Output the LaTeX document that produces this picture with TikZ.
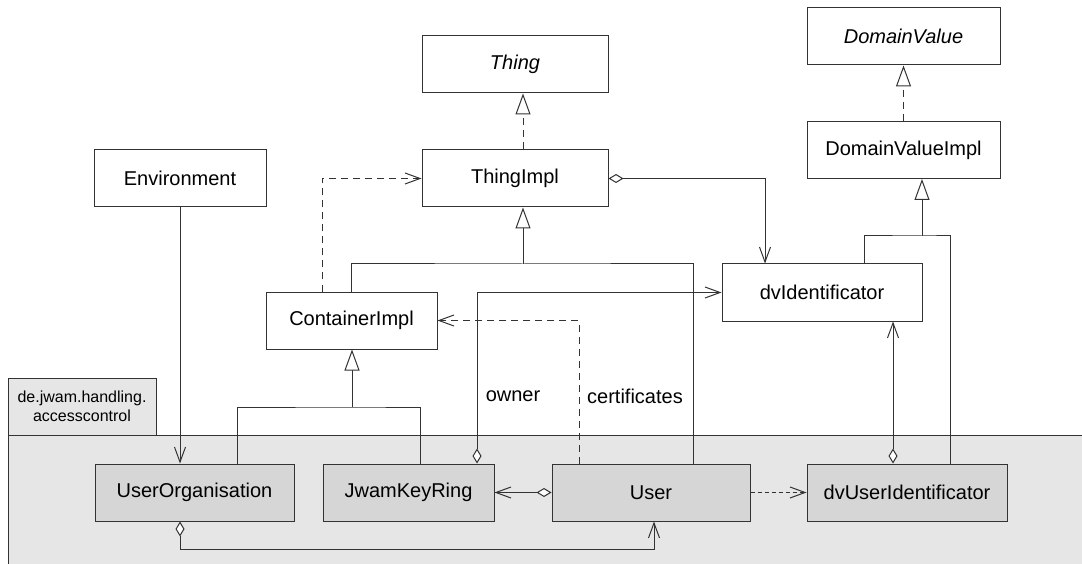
\documentclass[tikz,border=0pt]{standalone}
\usepackage{fontspec}
\setmainfont{Liberation Sans}
\usetikzlibrary{arrows.meta}
\definecolor{pkgfill}{HTML}{E6E6E6}
\definecolor{clsfill}{HTML}{D6D6D6}
\definecolor{ink}{HTML}{333333}

\begin{document}
\begin{tikzpicture}[x=1pt,y=-1pt,
  every node/.style={font=\fontsize{20}{24}\selectfont},
  cls/.style={draw=ink, line width=1pt, fill=white, inner sep=0pt, minimum height=57pt},
  pkgcls/.style={cls, fill=clsfill},
  conn/.style={draw=ink, line width=1pt},
  gen/.style={conn, -{Triangle[length=21pt,width=15pt,fill=white]}},
  realize/.style={gen, dash pattern=on 7pt off 5pt},
  assoc/.style={conn, -{Straight Barb[length=15pt,width=11pt]}},
  aggr/.style={conn, {Diamond[length=15pt,width=9pt,fill=white]}-{Straight Barb[length=15pt,width=11pt]}},
  depend/.style={assoc, dash pattern=on 7pt off 5pt},
  usedep/.style={assoc, dash pattern=on 4pt off 3pt},
  role/.style={font=\fontsize{20}{24}\selectfont}
]
\useasboundingbox (0,0) rectangle (1082,564);
\clip (0,0) rectangle (1082,564);

% package de.jwam.handling.accesscontrol
\draw[ink, line width=1pt, fill=pkgfill] (8,378) rectangle (156,435);
\node[font=\fontsize{16}{19}\selectfont, align=center] (pkglabel) at (82,406.5)
  {de.jwam.handling.\\accesscontrol};
\draw[ink, line width=1pt, fill=pkgfill] (8,435) rectangle (1095,575);

% classes
\node[cls, minimum width=186pt] (thing) at (515,64.5) {\itshape Thing};
\node[cls, minimum width=186pt] (thingimpl) at (515,178.5) {ThingImpl};
\node[cls, minimum width=193pt] (domval) at (903.5,36.5) {\itshape DomainValue};
\node[cls, minimum width=193pt] (domvalimpl) at (903.5,150) {DomainValueImpl};
\node[cls, minimum width=172pt] (env) at (180,178.5) {Environment};
\node[cls, minimum width=171pt] (container) at (351.5,320.5) {ContainerImpl};
\node[cls, minimum width=200pt] (dvid) at (822,292.5) {dvIdentificator};
\node[pkgcls, minimum width=199pt] (userorg) at (194.5,492.5) {UserOrganisation};
\node[pkgcls, minimum width=171pt] (keyring) at (408.5,492.5) {JwamKeyRing};
\node[pkgcls, minimum width=198pt] (user) at (651,492.5) {User};
\node[pkgcls, minimum width=200pt] (dvuser) at (907,492.5) {dvUserIdentificator};

% routing columns and junctions
\coordinate (colThing) at (523,0);
\coordinate (colDep) at (322,0);
\coordinate (colId) at (765,0);
\coordinate (colUserGen) at (693,0);
\coordinate (colOrg) at (180,0);
\coordinate (colOrgGen) at (237,0);
\coordinate (colRingGen) at (420,0);
\coordinate (colIdGen) at (864,0);
\coordinate (colDvuGen) at (950,0);
\coordinate (colOwner) at (477,0);
\coordinate (colCert) at (579,0);
\coordinate (colDvu) at (893,0);
\coordinate (jThing) at (523,264);
\coordinate (jCont) at (352,407);
\coordinate (jDom) at (922,236);
\coordinate (kBottom) at (654,549);

% realizations
\draw[realize] (thingimpl.north -| colThing) -- (thing.south -| colThing);
\draw[realize] (domvalimpl.north) -- (domval.south);

% generalizations
\draw[gen] (jThing) -- (thingimpl.south -| jThing);
\draw[conn] (container.north) |- (jThing) -| (user.north -| colUserGen);
\draw[gen] (jCont) -- (container.south -| jCont);
\draw[conn] (userorg.north -| colOrgGen) |- (jCont) -| (keyring.north -| colRingGen);
\draw[gen] (jDom) -- (domvalimpl.south -| jDom);
\draw[conn] (dvid.north -| colIdGen) |- (jDom) -| (dvuser.north -| colDvuGen);

% dependencies
\draw[depend] (container.north -| colDep) |- (thingimpl.west);
\draw[depend] (user.north -| colCert) |- (container.east);
\draw[usedep] (user.east) -- (dvuser.west);

% associations and aggregations
\draw[aggr] (thingimpl.east) -| (dvid.north -| colId);
\draw[assoc] (env.south -| colOrg) -- (userorg.north -| colOrg);
\draw[aggr] (keyring.north -| colOwner) |- (dvid.west);
\draw[aggr] (user.west) -- (keyring.east);
\draw[aggr] (userorg.south -| colOrg) |- (kBottom) -- (user.south -| kBottom);
\draw[aggr] (dvuser.north -| colDvu) -- (dvid.south -| colDvu);

% role names
\node[role] (lblowner) at (513,396) {owner};
\node[role] (lblcert) at (635,396) {certificates};
\end{tikzpicture}
\end{document}
